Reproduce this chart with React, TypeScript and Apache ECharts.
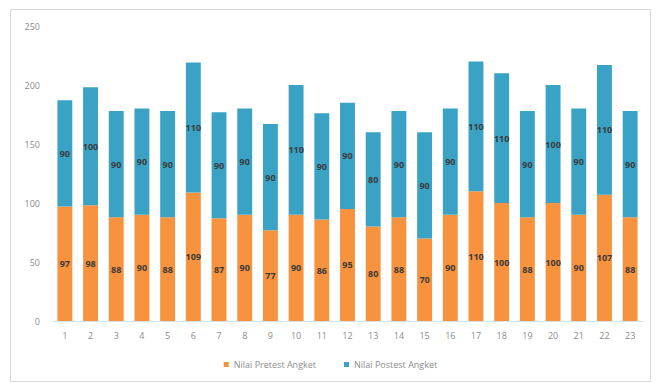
import React, { useEffect, useRef } from "react";
import * as echarts from "echarts";

// Respondent numbers along the x axis
const categories: string[] = [
  "1", "2", "3", "4", "5", "6", "7", "8", "9", "10", "11", "12",
  "13", "14", "15", "16", "17", "18", "19", "20", "21", "22", "23",
];

// Pretest questionnaire scores (bottom segment)
const pretest: number[] = [
  97, 98, 88, 90, 88, 109, 87, 90, 77, 90, 86, 95,
  80, 88, 70, 90, 110, 100, 88, 100, 90, 107, 88,
];

// Posttest questionnaire scores (stacked on top)
const posttest: number[] = [
  90, 100, 90, 90, 90, 110, 90, 90, 90, 110, 90, 90,
  80, 90, 90, 90, 110, 110, 90, 100, 90, 110, 90,
];

const seriesNames: string[] = ["Nilai Pretest Angket", "Nilai Postest Angket"];
const yTicks = { min: 0, max: 250, interval: 50 };

const FONT = "'Open Sans', 'Noto Sans', sans-serif";

export default function App() {
  const ref = useRef<HTMLDivElement>(null);

  useEffect(() => {
    if (!ref.current) return;
    const chart = echarts.init(ref.current, null, { renderer: "svg" });

    const labelStyle = {
      show: true,
      position: "inside" as const,
      color: "#3a3a3a",
      fontSize: 9,
      fontWeight: "bold" as const,
      fontFamily: FONT,
    };

    chart.setOption({
      animation: false,
      backgroundColor: "#ffffff",
      textStyle: { fontFamily: FONT },
      graphic: [
        {
          type: "rect",
          shape: { x: 10.5, y: 9.5, width: 640, height: 372 },
          style: { fill: "none", stroke: "#d9d9d9", lineWidth: 1 },
          silent: true,
        },
      ],
      grid: { left: 52, right: 18, top: 26, bottom: 62, containLabel: false },
      legend: {
        bottom: 9,
        left: "center",
        itemWidth: 5,
        itemHeight: 5,
        itemGap: 28,
        icon: "rect",
        textStyle: { color: "#8c8c8c", fontSize: 9, fontFamily: FONT },
        data: seriesNames,
      },
      xAxis: {
        type: "category",
        data: categories,
        axisLine: { show: true, lineStyle: { color: "#d6e2ec", width: 1 } },
        axisTick: { show: false },
        axisLabel: { color: "#8c8c8c", fontSize: 9, margin: 10, fontFamily: FONT },
      },
      yAxis: {
        type: "value",
        min: yTicks.min,
        max: yTicks.max,
        interval: yTicks.interval,
        axisLine: { show: false },
        axisTick: { show: false },
        splitLine: { show: false },
        axisLabel: { color: "#8c8c8c", fontSize: 9, margin: 12, fontFamily: FONT },
      },
      series: [
        {
          name: seriesNames[0],
          type: "bar",
          stack: "total",
          data: pretest,
          barWidth: "58%",
          itemStyle: { color: "#f7923e" },
          label: labelStyle,
        },
        {
          name: seriesNames[1],
          type: "bar",
          stack: "total",
          data: posttest,
          barWidth: "58%",
          itemStyle: { color: "#3aa3c5" },
          label: labelStyle,
        },
      ],
    });

    return () => chart.dispose();
  }, []);

  return (
    <div
      ref={ref}
      style={{ position: "absolute", left: 0, top: 0, width: 661, height: 383 }}
    />
  );
}
